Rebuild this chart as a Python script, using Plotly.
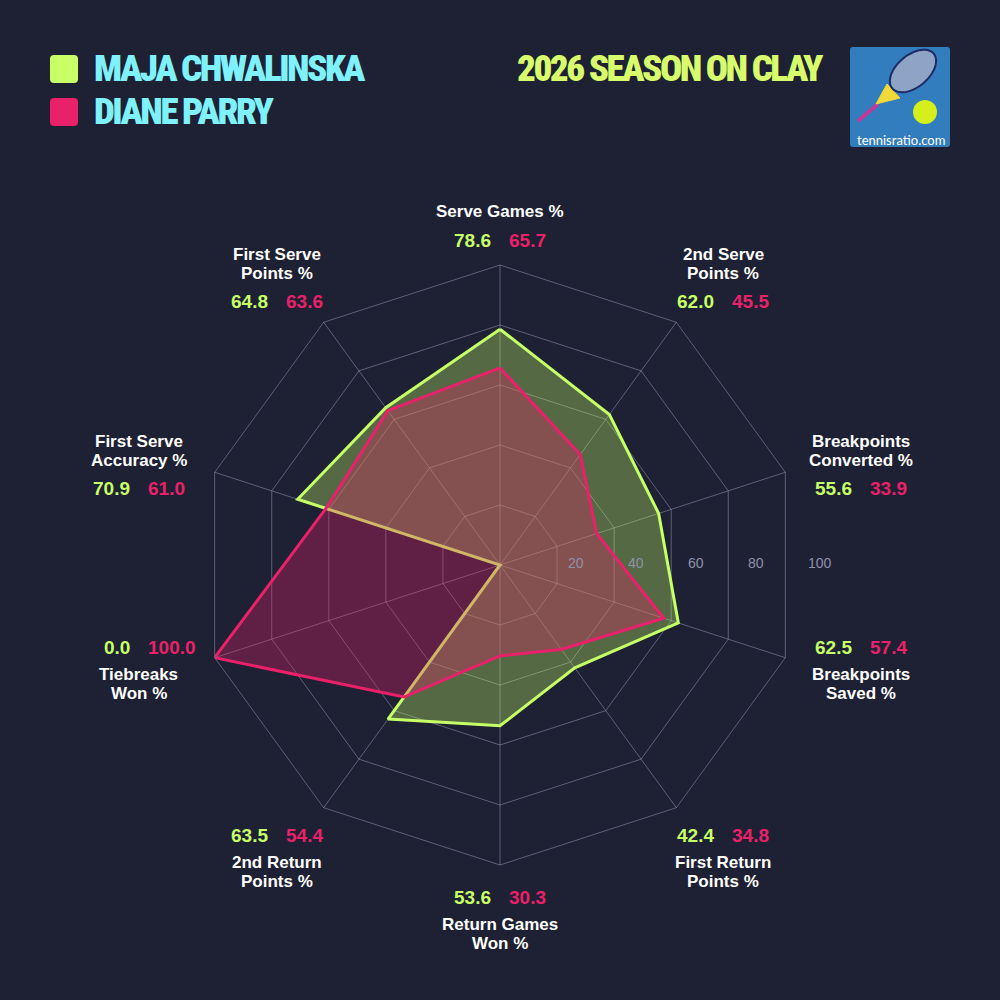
import math
import numpy as np
import plotly.graph_objects as go

# ---------------- data ----------------
categories = ["Serve Games %", "2nd Serve<br>Points %", "Breakpoints<br>Converted %",
              "Breakpoints<br>Saved %", "First Return<br>Points %", "Return Games<br>Won %",
              "2nd Return<br>Points %", "Tiebreaks<br>Won %", "First Serve<br>Accuracy %",
              "First Serve<br>Points %"]
maja = [78.6, 62.0, 55.6, 62.5, 42.4, 53.6, 63.5, 0.0, 70.9, 64.8]
diane = [65.7, 45.5, 33.9, 57.4, 34.8, 30.3, 54.4, 100.0, 61.0, 63.6]
players = ["MAJA CHWALINSKA", "DIANE PARRY"]
radial_ticks = [20, 40, 60, 80, 100]
title_text = "2026 SEASON ON CLAY"
logo_text = "tennisratio.com"

# ---------------- style ----------------
BG = "#1e2033"
LIME = "#c6ff66"
PINK = "#e8216a"
LIME_FILL = "rgba(198,255,102,0.33)"
PINK_FILL = "rgba(232,33,106,0.33)"
GRID = "rgba(170,175,205,0.45)"
CYAN = "#7ef1fb"
TITLE_C = "#d8fb6c"
FONT = "Liberation Sans, Arial, sans-serif"
COND = "Roboto Condensed, Open Sans, Noto Sans, Roboto"
COND_STYLE = "font-stretch:62.5%;letter-spacing:-2.5px"

W = H = 1000
CX, CY, R = 500, 565, 300


def px(x):
    return x / W


def py(y):
    return 1 - y / H


theta_names = [c.replace("<br>", " ") for c in categories]

fig = go.Figure()
for vals, line_c, fill_c, name in [(maja, LIME, LIME_FILL, players[0]),
                                   (diane, PINK, PINK_FILL, players[1])]:
    fig.add_trace(go.Scatterpolar(
        r=vals + vals[:1], theta=theta_names + theta_names[:1],
        mode="lines", fill="toself", fillcolor=fill_c,
        line=dict(color=line_c, width=3), name=name, showlegend=False,
        hoverinfo="skip"))

annotations = []
shapes = []

# category labels and values
n = len(categories)
for i, cat in enumerate(categories):
    th = 2 * math.pi * i / n
    s, c = math.sin(th), math.cos(th)
    ax = CX + 380 * s
    ay = 567 - 320 * c
    lines = cat.split("<br>")
    k = len(lines)
    if c > 0.5:
        vy = ay - 7
        name_pos = [vy - 28 - 19 * (k - 1 - j) for j in range(k)]
    elif c < -0.5:
        vy = ay + 10
        name_pos = [vy + 27 + 19 * j for j in range(k)]
    elif c >= 0:
        vy = ay + 20
        name_pos = [vy - 28 - 19 * (k - 1 - j) for j in range(k)]
    else:
        vy = ay - 18
        name_pos = [vy + 27 + 19 * j for j in range(k)]
    for ln, ly in zip(lines, name_pos):
        annotations.append(dict(x=px(ax), y=py(ly), xref="paper", yref="paper",
                                text="<b>%s</b>" % ln, showarrow=False,
                                xanchor="center", yanchor="middle",
                                font=dict(family=FONT, size=17, color="#ffffff")))
    annotations.append(dict(x=px(ax - 7), y=py(vy), xref="paper", yref="paper",
                            text="<b>%.1f</b>" % maja[i], showarrow=False,
                            xanchor="right", yanchor="middle",
                            font=dict(family=FONT, size=19, color=LIME)))
    annotations.append(dict(x=px(ax + 7), y=py(vy), xref="paper", yref="paper",
                            text="<b>%.1f</b>" % diane[i], showarrow=False,
                            xanchor="left", yanchor="middle",
                            font=dict(family=FONT, size=19, color=PINK)))

# radial tick labels
for v in radial_ticks:
    annotations.append(dict(x=px(CX + v / 100 * R + 6), y=py(563), xref="paper", yref="paper",
                            text=str(v), showarrow=False, xanchor="left", yanchor="middle",
                            font=dict(family=FONT, size=14, color="#8e92ab")))


def rrect(x0, y0, x1, y1, r):
    X0, X1 = px(x0), px(x1)
    Y0, Y1 = py(y0), py(y1)
    rx, ry = r / W, r / H
    return (f"M {X0+rx},{Y0} L {X1-rx},{Y0} Q {X1},{Y0} {X1},{Y0-ry} "
            f"L {X1},{Y1+ry} Q {X1},{Y1} {X1-rx},{Y1} L {X0+rx},{Y1} "
            f"Q {X0},{Y1} {X0},{Y1+ry} L {X0},{Y0-ry} Q {X0},{Y0} {X0+rx},{Y0} Z")


# legend
for j, (name, col) in enumerate(zip(players, [LIME, PINK])):
    yc = 69 + 43 * j
    shapes.append(dict(type="path", path=rrect(50, yc - 14, 78, yc + 14, 4),
                       xref="paper", yref="paper", fillcolor=col, line=dict(width=0)))
    annotations.append(dict(x=px(92), y=py(yc), xref="paper", yref="paper",
                            text='<span style="%s">%s</span>' % (COND_STYLE, name),
                            showarrow=False, xanchor="left", yanchor="middle",
                            font=dict(family=COND, size=37, color=CYAN, weight=900)))

# title
annotations.append(dict(x=px(826), y=py(68), xref="paper", yref="paper",
                        text='<span style="%s">%s</span>' % (COND_STYLE, title_text),
                        showarrow=False, xanchor="right", yanchor="middle",
                        font=dict(family=COND, size=37, color=TITLE_C, weight=900)))

# logo
shapes.append(dict(type="path", path=rrect(850, 47, 950, 147, 3), xref="paper", yref="paper",
                   fillcolor="#327dbd", line=dict(width=0)))
# racket handle
shapes.append(dict(type="line", x0=px(858), y0=py(121), x1=px(878), y1=py(104),
                   xref="paper", yref="paper", line=dict(color="#c2399a", width=4)))
# racket throat
shapes.append(dict(type="path",
                   path=f"M {px(876)},{py(104)} L {px(887)},{py(84)} L {px(900)},{py(98)} Z",
                   xref="paper", yref="paper", fillcolor="#f1d93a", line=dict(color="#f1d93a", width=1)))
# racket head (rotated ellipse)
t = np.linspace(0, 2 * np.pi, 60)
ang = math.radians(-40)
hx = 913 + 27 * np.cos(t) * math.cos(ang) - 16 * np.sin(t) * math.sin(ang)
hy = 71 + 27 * np.cos(t) * math.sin(ang) + 16 * np.sin(t) * math.cos(ang)
head = "M " + " L ".join(f"{px(a):.4f},{py(b):.4f}" for a, b in zip(hx, hy)) + " Z"
shapes.append(dict(type="path", path=head, xref="paper", yref="paper",
                   fillcolor="#8ea4c6", line=dict(color="#1d2a66", width=2)))
# ball
shapes.append(dict(type="circle", x0=px(913), y0=py(100), x1=px(937), y1=py(124),
                   xref="paper", yref="paper", fillcolor="#d5ef1c", line=dict(width=0)))
annotations.append(dict(x=px(901), y=py(140), xref="paper", yref="paper",
                        text=logo_text, showarrow=False, xanchor="center", yanchor="middle",
                        font=dict(family="Lato, Open Sans, sans-serif", size=13, color="#ffffff")))

fig.update_layout(
    width=W, height=H, margin=dict(l=0, r=0, t=0, b=0),
    paper_bgcolor=BG, plot_bgcolor=BG, showlegend=False,
    polar=dict(
        domain=dict(x=[px(CX - R), px(CX + R)], y=[py(CY + R), py(CY - R)]),
        bgcolor=BG, gridshape="linear",
        radialaxis=dict(range=[0, 100], tickvals=radial_ticks, showticklabels=False,
                        ticks="", showline=False, gridcolor=GRID, gridwidth=1, angle=0),
        angularaxis=dict(rotation=90, direction="clockwise", showticklabels=False,
                         ticks="", gridcolor=GRID, gridwidth=1, showline=True,
                         linecolor=GRID, linewidth=1),
    ),
    annotations=annotations, shapes=shapes,
)

fig.write_html("out.html")
